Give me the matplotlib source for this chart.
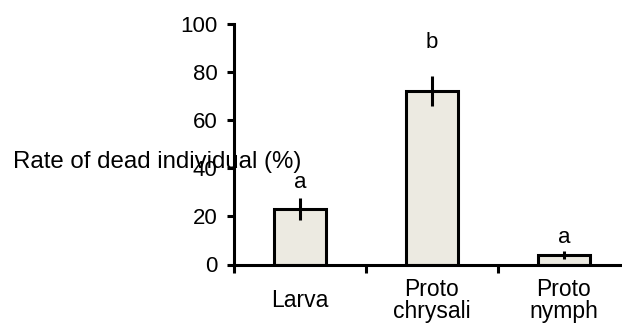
import matplotlib
matplotlib.use('Agg')
import matplotlib.pyplot as plt

# data
categories = ['Larva', 'Proto\nchrysali', 'Proto\nnymph']
death_rate = [23, 72, 4]
errors = [4.5, 6.2, 1.6]
letters = ['a', 'b', 'a']
letter_y = [34, 92, 11]

plt.rcParams['font.family'] = ['Liberation Sans', 'DejaVu Sans']

fig = plt.figure(figsize=(6.22, 3.27), dpi=100)
# axes runs past the right edge, as in the original
ax = fig.add_axes([234 / 622, 62.5 / 327, 396 / 622, 241 / 327])

x = list(range(len(categories)))
ax.bar(x, death_rate, width=0.4, color='#ECEAE1', edgecolor='black', linewidth=2.2, zorder=2)
ax.errorbar(x, death_rate, yerr=errors, fmt='none', ecolor='black', elinewidth=2.2, capsize=0, zorder=3)

for xi, lab, ly in zip(x, letters, letter_y):
    ax.text(xi, ly, lab, ha='center', va='center', fontsize=16)

ax.set_xlim(-0.5, 2.5)
ax.set_ylim(0, 100)
ax.set_yticks([0, 20, 40, 60, 80, 100])
ax.tick_params(axis='y', labelsize=16, width=2.2, length=5, direction='out', pad=7)

# boundary ticks as major, category labels on minor ticks
ax.set_xticks([-0.5, 0.5, 1.5])
ax.set_xticklabels([])
ax.tick_params(axis='x', which='major', width=2.2, length=6, direction='out')
ax.set_xticks(x, minor=True)
ax.set_xticklabels(categories, minor=True, fontsize=16.5, linespacing=0.95, va='center')
ax.tick_params(axis='x', which='minor', length=0, pad=26)

for spine in ['top', 'right']:
    ax.spines[spine].set_visible(False)
for spine in ['left', 'bottom']:
    ax.spines[spine].set_linewidth(2.2)

fig.text(13 / 622, 1 - 162 / 327, 'Rate of dead individual (%)', ha='left', va='center', fontsize=17.3)

fig.savefig('out.png', dpi=100)
plt.close(fig)
